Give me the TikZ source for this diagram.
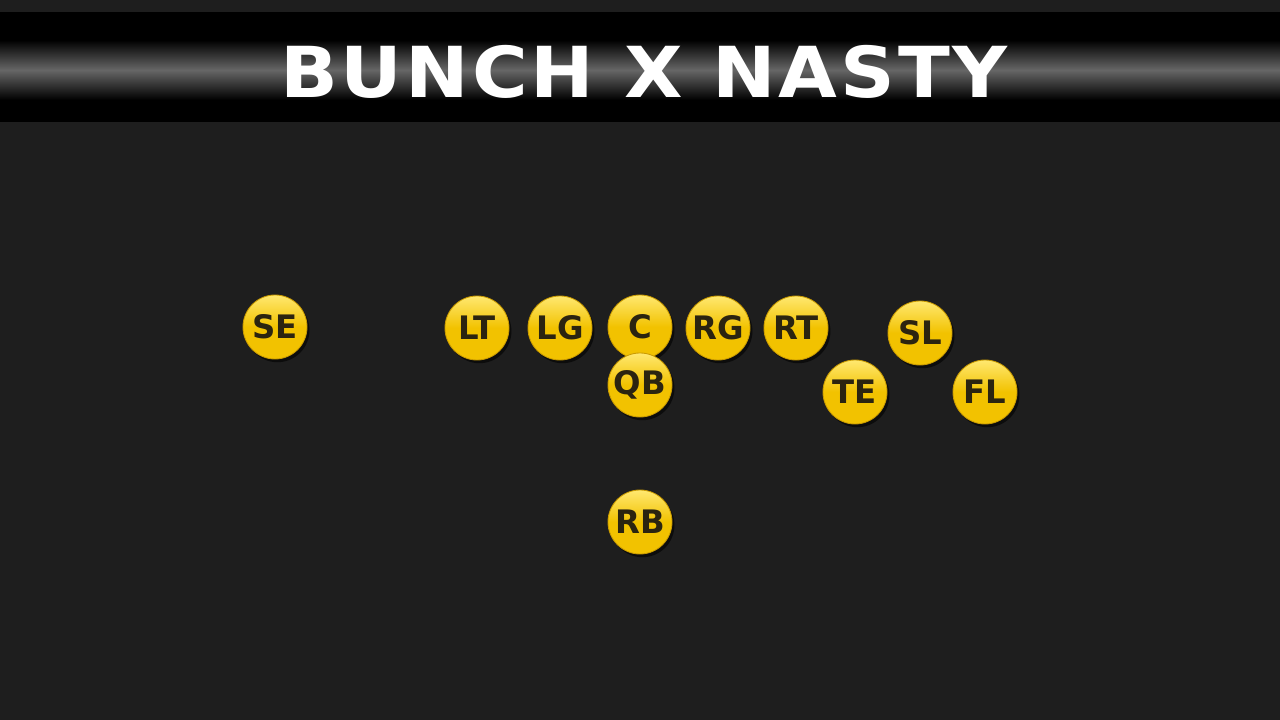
\documentclass[tikz,border=0pt]{standalone}
\usepackage{fontspec}
\setmainfont{DejaVu Sans}
\newfontfamily\titlefont[LetterSpace=4]{DejaVu Sans Bold}
\newfontfamily\playerfont{DejaVu Sans Bold}
\usetikzlibrary{shadows,fadings}
\definecolor{bgc}{HTML}{1E1E1E}
\definecolor{gold}{HTML}{F2C200}
\definecolor{goldlight}{HTML}{FFE870}
\definecolor{golddark}{HTML}{C99A00}
\definecolor{ink}{HTML}{2B2410}
\tikzset{
  player/.style={circle, minimum size=1.6cm, inner sep=0pt, draw=golddark, line width=0.6pt,
    top color=goldlight, bottom color=gold, middle color=gold,
    drop shadow={shadow xshift=0.06cm, shadow yshift=-0.08cm, opacity=0.6, fill=black},
    font=\playerfont\fontsize{23}{23}\selectfont, text=ink},
}
\begin{document}
\begin{tikzpicture}[x=0.025cm,y=-0.025cm]
\useasboundingbox (0,0) rectangle (1280,720);
\fill[bgc] (0,0) rectangle (1280,720);
% banner
\fill[black] (0,12) rectangle (1280,122);
\shade[top color=black, bottom color=black, middle color=black!60] (0,40) rectangle (1280,100);
\node[text=white, font=\titlefont\fontsize{50}{50}\selectfont] (title) at (644,72) {\scalebox{1.08}[1]{BUNCH X NASTY}};
% players
\node[player] (SE) at (275,327) {SE};
\node[player] (LT) at (477,328) {LT};
\node[player] (LG) at (560,328) {LG};
\node[player] (C) at (640,327) {C};
\node[player] (RG) at (718,328) {RG};
\node[player] (RT) at (796,328) {RT};
\node[player] (SL) at (920,333) {SL};
\node[player] (QB) at (640,385) {QB};
\node[player] (TE) at (855,392) {TE};
\node[player] (FL) at (985,392) {FL};
\node[player] (RB) at (640,522) {RB};
\end{tikzpicture}
\end{document}
